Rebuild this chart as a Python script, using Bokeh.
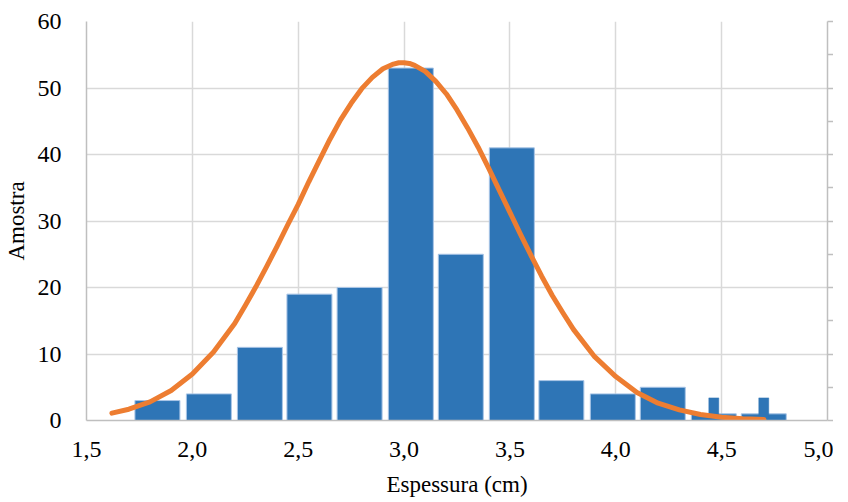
from bokeh.plotting import figure
from bokeh.models import FixedTicker, CustomJSTickFormatter, LinearAxis, Range1d
from bokeh.embed import file_html
from bokeh.resources import INLINE

# Histogram bins (centre of each bin, cm) and counts
bin_centers = [1.835, 2.078, 2.319, 2.553, 2.790, 3.032, 3.268, 3.509, 3.743, 3.986, 4.222, 4.463, 4.699]
counts = [3, 4, 11, 19, 20, 53, 25, 41, 6, 4, 5, 1, 1]

# Narrow extra bars near the tail
spike_centers = [4.463, 4.699]
spike_counts = [3.4, 3.4]

# Fitted normal curve
curve_x = [1.62, 1.7, 1.8, 1.9, 2.0, 2.1, 2.2, 2.25, 2.3, 2.35, 2.4, 2.45, 2.5, 2.55, 2.6,
           2.65, 2.7, 2.75, 2.8, 2.85, 2.9, 2.95, 2.975, 3.0, 3.025, 3.05, 3.1, 3.15, 3.2,
           3.25, 3.3, 3.35, 3.4, 3.45, 3.5, 3.55, 3.6, 3.65, 3.7, 3.75, 3.8, 3.9, 4.0,
           4.1, 4.2, 4.3, 4.4, 4.5, 4.6, 4.7]
curve_y = [1.1, 1.7, 2.8, 4.5, 7.0, 10.3, 14.6, 17.3, 20.1, 23.1, 26.2, 29.4, 32.5, 35.9, 39.1,
           42.3, 45.2, 47.7, 49.9, 51.6, 52.9, 53.6, 53.8, 53.8, 53.7, 53.4, 52.5, 51.0, 49.1,
           46.7, 44.0, 41.1, 37.9, 34.6, 31.3, 28.0, 24.8, 21.7, 18.8, 16.2, 13.7, 9.6, 6.6,
           4.2, 2.6, 1.6, 0.9, 0.5, 0.27, 0.15]

x_ticks = [1.5, 2.0, 2.5, 3.0, 3.5, 4.0, 4.5, 5.0]
y_ticks = [0, 10, 20, 30, 40, 50, 60]
y_minor = [0, 5, 10, 15, 20, 25, 30, 35, 40, 45, 50, 55, 60]

FONT = "Liberation Serif"
AXIS_COLOR = "#BFBFBF"
GRID_COLOR = "#D9D9D9"

p = figure(frame_width=741, frame_height=399,
           x_range=Range1d(1.5, 5.0), y_range=Range1d(0, 60),
           output_backend="svg", toolbar_location=None,
           min_border_left=79, min_border_right=6,
           min_border_top=21, min_border_bottom=78,
           background_fill_color="white", border_fill_color="white")
p.outline_line_color = None

# axes
xa = p.xaxis[0]
xa.ticker = FixedTicker(ticks=x_ticks)
xa.formatter = CustomJSTickFormatter(code="return tick.toFixed(1).replace('.', ',');")
xa.axis_label = "Espessura (cm)"
ya = p.yaxis[0]
ya.ticker = FixedTicker(ticks=y_ticks)
ya.axis_label = "Amostra"

for ax in (xa, ya):
    ax.axis_line_color = AXIS_COLOR
    ax.axis_line_width = 1.5
    ax.major_tick_line_color = None
    ax.minor_tick_line_color = None
    ax.major_label_text_font = FONT
    ax.major_label_text_font_size = "24px"
    ax.major_label_text_color = "black"
    ax.axis_label_text_font = FONT
    ax.axis_label_text_font_size = "23px"
    ax.axis_label_text_font_style = "normal"
    ax.axis_label_text_color = "black"

xa.major_label_standoff = 15
xa.axis_label_standoff = 12
ya.major_label_standoff = 19
ya.axis_label_standoff = 6

ra = LinearAxis(ticker=FixedTicker(ticks=y_minor))
ra.formatter = CustomJSTickFormatter(code="return '';")
ra.axis_line_color = AXIS_COLOR
ra.axis_line_width = 1.5
ra.major_tick_line_color = AXIS_COLOR
ra.major_tick_line_width = 1.5
ra.major_tick_out = 6
ra.major_tick_in = 0
ra.minor_tick_line_color = None
ra.major_label_standoff = 0
p.add_layout(ra, "right")

# grid
p.xgrid.ticker = FixedTicker(ticks=x_ticks)
p.ygrid.ticker = FixedTicker(ticks=y_ticks)
p.xgrid.grid_line_color = GRID_COLOR
p.ygrid.grid_line_color = GRID_COLOR
p.xgrid.grid_line_width = 1.5
p.ygrid.grid_line_width = 1.5

# bars
p.vbar(x=bin_centers, top=counts, bottom=0, width=0.2125,
       fill_color="#2E75B6", line_color="#A9C5E6", line_width=1)
p.vbar(x=spike_centers, top=spike_counts, bottom=0, width=0.047,
       fill_color="#2E75B6", line_color="#2E75B6", line_width=0.5)

# curve
p.line(curve_x, curve_y, line_color="#ED7D31", line_width=5, line_cap="round", line_join="round")

open("out.html", "w").write(file_html(p, INLINE))
